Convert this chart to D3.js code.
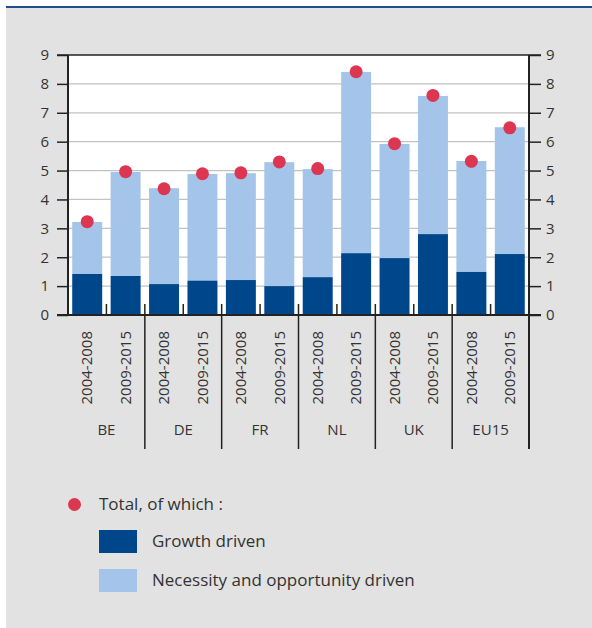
<!DOCTYPE html>
<html>
<head>
<meta charset="utf-8">
<script src="https://cdn.jsdelivr.net/npm/d3@7"></script>
<style>
  body { margin: 0; background: #fff; }
  svg { display: block; font-family: "Open Sans", "Noto Sans", sans-serif; }
</style>
</head>
<body>
<svg id="chart" width="592" height="628"></svg>
<script>
// data
var countries = ["BE", "DE", "FR", "NL", "UK", "EU15"];
var periods = ["2004-2008", "2009-2015"];
var growth = [1.42, 1.35, 1.07, 1.19, 1.21, 1.00, 1.31, 2.14, 1.97, 2.80, 1.49, 2.11];
var necessity = [1.80, 3.60, 3.32, 3.69, 3.70, 4.29, 3.74, 6.27, 3.95, 4.78, 3.84, 4.39];
var totals = [3.23, 4.96, 4.37, 4.89, 4.92, 5.30, 5.07, 8.42, 5.93, 7.60, 5.32, 6.48];
var yTicks = [0, 1, 2, 3, 4, 5, 6, 7, 8, 9];

var darkBlue = "#00468a", lightBlue = "#a4c5e9", red = "#dc3650";

function drawChart() {
    var rows = [];
    countries.forEach(function(c, i) {
        periods.forEach(function(p, j) {
            var k = i * 2 + j;
            rows.push({country: c, period: p, growth: growth[k], necessity: necessity[k], total: totals[k]});
        });
    });

    var svg = d3.select("#chart");
    var plotL = 68, plotR = 529, plotT = 55, plotB = 315;
    var axisColor = "#222", textColor = "#333";

    // background panel
    svg.append("rect").attr("x", 6).attr("y", 8).attr("width", 586).attr("height", 620).attr("fill", "#e2e2e2");
    svg.append("line").attr("x1", 6).attr("x2", 592).attr("y1", 7).attr("y2", 7)
        .attr("stroke", "#1f4e8c").attr("stroke-width", 2);

    var x0 = d3.scaleBand().domain(countries).range([plotL, plotR]).padding(0);
    var x1 = d3.scaleBand().domain(periods).range([0, x0.bandwidth()]).paddingInner(0.22).paddingOuter(0.11);
    var y = d3.scaleLinear().domain([0, 9]).range([plotB, plotT]);

    svg.append("rect").attr("x", plotL).attr("y", plotT).attr("width", plotR - plotL).attr("height", plotB - plotT).attr("fill", "#fff");

    // gridlines
    svg.append("g").selectAll("line").data(yTicks.filter(function(t) { return t > 0 && t < 9; }))
        .enter().append("line")
        .attr("x1", plotL).attr("x2", plotR)
        .attr("y1", function(d) { return y(d); }).attr("y2", function(d) { return y(d); })
        .attr("stroke", "#c2c2c2").attr("stroke-width", 1.3);

    // stacked bars
    var bars = svg.append("g");
    bars.selectAll("rect.n").data(rows).enter().append("rect").attr("class", "n")
        .attr("x", function(d) { return x0(d.country) + x1(d.period); })
        .attr("width", x1.bandwidth())
        .attr("y", function(d) { return y(d.growth + d.necessity); })
        .attr("height", function(d) { return y(d.growth) - y(d.growth + d.necessity); })
        .attr("fill", lightBlue);
    bars.selectAll("rect.g").data(rows).enter().append("rect").attr("class", "g")
        .attr("x", function(d) { return x0(d.country) + x1(d.period); })
        .attr("width", x1.bandwidth())
        .attr("y", function(d) { return y(d.growth); })
        .attr("height", function(d) { return y(0) - y(d.growth); })
        .attr("fill", darkBlue);

    // axes
    var yl = d3.axisLeft(y).tickValues(yTicks).tickSize(11).tickPadding(8);
    var yr = d3.axisRight(y).tickValues(yTicks).tickSize(12).tickPadding(5);
    [svg.append("g").attr("transform", "translate(" + plotL + ",0)").call(yl),
     svg.append("g").attr("transform", "translate(" + plotR + ",0)").call(yr)].forEach(function(g) {
        g.select(".domain").remove();
        g.selectAll("line").attr("stroke", axisColor).attr("stroke-width", 1.5);
        g.selectAll("text").attr("font-size", 15).attr("fill", textColor).attr("font-family", "Open Sans");
    });
    svg.append("line").attr("x1", plotL).attr("x2", plotL).attr("y1", plotT).attr("y2", plotB)
        .attr("stroke", axisColor).attr("stroke-width", 2);
    svg.append("line").attr("x1", plotR).attr("x2", plotR).attr("y1", plotT).attr("y2", 449)
        .attr("stroke", axisColor).attr("stroke-width", 2);
    svg.append("line").attr("x1", plotL - 11).attr("x2", plotR + 12).attr("y1", plotT).attr("y2", plotT)
        .attr("stroke", axisColor).attr("stroke-width", 1.5);
    svg.append("line").attr("x1", plotL - 11).attr("x2", plotR + 12).attr("y1", plotB).attr("y2", plotB)
        .attr("stroke", axisColor).attr("stroke-width", 2);

    // category separators and minor ticks
    svg.append("g").selectAll("line").data(countries.slice(1)).enter().append("line")
        .attr("x1", function(d) { return x0(d); }).attr("x2", function(d) { return x0(d); })
        .attr("y1", plotB - 11).attr("y2", 449)
        .attr("stroke", axisColor).attr("stroke-width", 1.5);
    svg.append("g").selectAll("line").data(countries).enter().append("line")
        .attr("x1", function(d) { return x0(d) + x0.bandwidth() / 2; }).attr("x2", function(d) { return x0(d) + x0.bandwidth() / 2; })
        .attr("y1", plotB - 11).attr("y2", plotB)
        .attr("stroke", axisColor).attr("stroke-width", 1.5);

    // totals
    svg.append("g").selectAll("circle").data(rows).enter().append("circle")
        .attr("cx", function(d) { return x0(d.country) + x1(d.period) + x1.bandwidth() / 2; })
        .attr("cy", function(d) { return y(d.total); })
        .attr("r", 6.5).attr("fill", red);

    // period labels
    svg.append("g").selectAll("text").data(rows).enter().append("text")
        .attr("transform", function(d) {
            return "translate(" + (x0(d.country) + x1(d.period) + x1.bandwidth() / 2) + ",331) rotate(-90)";
        })
        .attr("text-anchor", "end").attr("dy", "0.35em")
        .attr("font-size", 15).attr("fill", textColor)
        .text(function(d) { return d.period; });

    // country labels
    svg.append("g").selectAll("text").data(countries).enter().append("text")
        .attr("x", function(d) { return x0(d) + x0.bandwidth() / 2; })
        .attr("y", 435).attr("text-anchor", "middle")
        .attr("font-size", 15).attr("fill", textColor)
        .text(function(d) { return d; });

    // legend
    var legend = svg.append("g");
    legend.append("circle").attr("cx", 74.5).attr("cy", 504.5).attr("r", 6.5).attr("fill", red);
    legend.append("text").attr("x", 99).attr("y", 510).attr("font-size", 17).attr("fill", textColor).text("Total, of which :");
    var legendItems = [{label: "Growth driven", color: darkBlue}, {label: "Necessity and opportunity driven", color: lightBlue}];
    legend.selectAll("rect").data(legendItems).enter().append("rect")
        .attr("x", 99).attr("y", function(d, i) { return 530 + i * 39; })
        .attr("width", 38).attr("height", 23).attr("fill", function(d) { return d.color; });
    legend.selectAll("text.item").data(legendItems).enter().append("text").attr("class", "item")
        .attr("x", 152).attr("y", function(d, i) { return 547 + i * 39; })
        .attr("font-size", 17).attr("fill", textColor)
        .text(function(d) { return d.label; });
}

drawChart();
</script>
</body>
</html>
